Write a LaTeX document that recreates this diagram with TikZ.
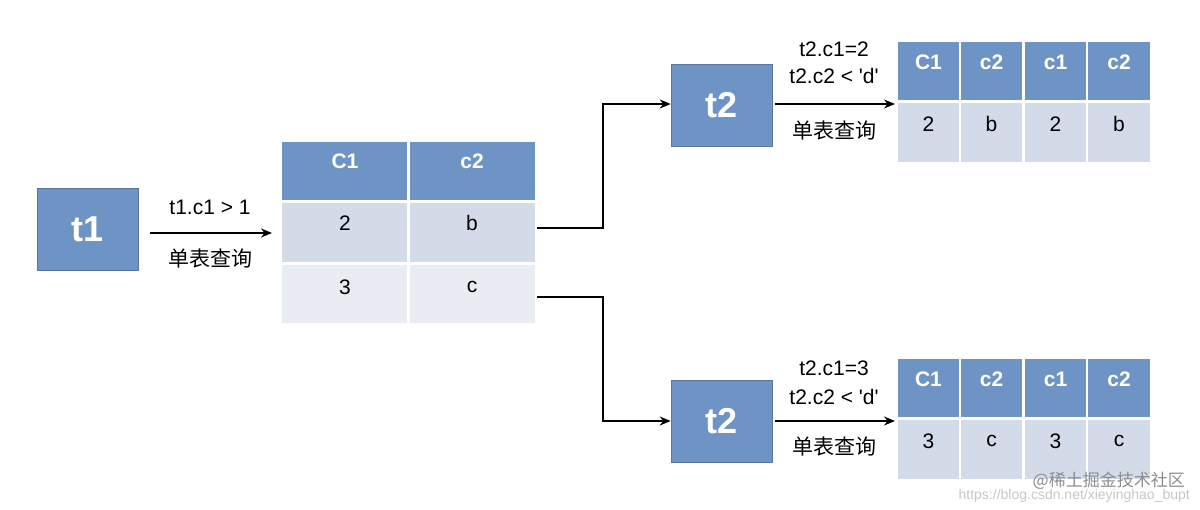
\documentclass[tikz,border=0pt]{standalone}
\usepackage{fontspec}
\setmainfont{Liberation Sans}
\newfontfamily\cjk{Noto Sans CJK SC}
\usetikzlibrary{arrows.meta}
\definecolor{hd}{RGB}{110,148,198}
\definecolor{ra}{RGB}{211,219,233}
\definecolor{rb}{RGB}{233,237,243}
\begin{document}
\begin{tikzpicture}[x=1pt,y=-1pt,
  big/.style={fill=hd,draw=hd!80!black,line width=0.6pt,minimum width=101pt,minimum height=82pt,text=white,font=\bfseries\fontsize{36}{36}\selectfont,inner sep=0pt},
  lbl/.style={font=\fontsize{21}{22}\selectfont,inner sep=0pt},
  cn/.style={font=\cjk\fontsize{21}{22}\selectfont,inner sep=0pt},
  ar/.style={-{Stealth[length=11pt,width=9pt]},line width=1.6pt},
  hc/.style={fill=hd},
  ht/.style={text=white,font=\bfseries\fontsize{21}{22}\selectfont,inner sep=0pt},
  ct/.style={font=\fontsize{21}{22}\selectfont,inner sep=0pt}]
\useasboundingbox (0,0) rectangle (1200,510);
% t1
\node[big] (t1) at (87.5,229) {t1};
\coordinate (a1) at (150,233); \coordinate (a2) at (272,233);
\draw[ar] (a1) -- (a2);
\node[lbl] (l1) at (210,207) {t1.c1 > 1};
\node[cn] (l2) at (210,259) {单表查询};
% table 1
\fill[hc] (282,142) rectangle (407,200); \fill[hc] (410,142) rectangle (535,200);
\fill[ra] (282,203) rectangle (407,262); \fill[ra] (410,203) rectangle (535,262);
\fill[rb] (282,265) rectangle (407,323); \fill[rb] (410,265) rectangle (535,323);
\node[ht] (h1) at (345,161) {C1}; \node[ht] (h2) at (472,161) {c2};
\node[ct] (v1) at (345,223) {2}; \node[ct] (v2) at (472,223) {b};
\node[ct] (v3) at (345,287) {3}; \node[ct] (v4) at (472,287) {c};
% top t2
\node[big] (t2a) at (721.5,105) {t2};
\coordinate (s1) at (537,228);
\draw[ar] (s1) -- (603,228) -- (603,104) -- (t2a.west |- 0,104);
\coordinate (b1) at (775,104); \coordinate (b2) at (895,104);
\draw[ar] (b1) -- (b2);
\node[lbl] (m1) at (834,49) {t2.c1=2};
\node[lbl] (m2) at (834,76) {t2.c2 < \textquotesingle d\textquotesingle};
\node[cn] (m3) at (834,131) {单表查询};
% bottom t2
\node[big] (t2b) at (721.5,421.5) {t2};
\coordinate (s2) at (537,297);
\draw[ar] (s2) -- (603,297) -- (603,421) -- (t2b.west |- 0,421);
\coordinate (c1) at (775,421); \coordinate (c2) at (895,421);
\draw[ar] (c1) -- (c2);
\node[lbl] (n1) at (834,368) {t2.c1=3};
\node[lbl] (n2) at (834,397) {t2.c2 < \textquotesingle d\textquotesingle};
\node[cn] (n3) at (834,447) {单表查询};
% right tables
\foreach \yt/\va/\vb in {42/2/b,359/3/c}{
  \foreach \xl/\xr in {898/959,961/1022,1025/1086,1088/1150}{
    \fill[hc] (\xl,\yt) rectangle (\xr,\yt+58);
    \fill[ra] (\xl,\yt+61) rectangle (\xr,\yt+120);
  }
  \node[ht] at (928.5,\yt+20) {C1}; \node[ht] at (991.5,\yt+20) {c2};
  \node[ht] at (1055.5,\yt+20) {c1}; \node[ht] at (1119,\yt+20) {c2};
  \node[ct] at (928.5,\yt+82) {\va}; \node[ct] at (991.5,\yt+82) {\vb};
  \node[ct] at (1055.5,\yt+82) {\va}; \node[ct] at (1119,\yt+82) {\vb};
}
% watermark
\node[text=black!22,font=\fontsize{14}{14}\selectfont,anchor=east,inner sep=0pt] (w2) at (1190,496) {https://blog.csdn.net/xieyinghao\_bupt};
\node[text=black!45,font=\cjk\fontsize{17}{17}\selectfont,anchor=east,inner sep=0pt] (w1) at (1185,481) {@稀土掘金技术社区};
\end{tikzpicture}
\end{document}
